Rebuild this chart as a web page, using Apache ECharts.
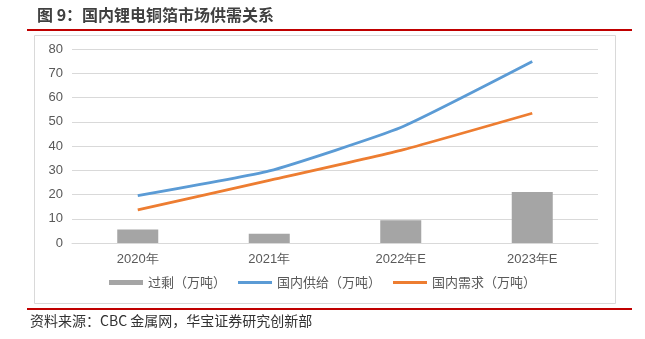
<!DOCTYPE html>
<html><head><meta charset="utf-8">
<script src="https://cdn.jsdelivr.net/npm/echarts@6/dist/echarts.min.js"></script>
<style>html,body{margin:0;padding:0;background:#fff}#c{width:645px;height:339px}</style>
</head><body><div id="c"></div>
<script>
const categories = ['2020年','2021年','2022年E','2023年E'];
const surplus = [5.6, 3.8, 9.4, 21.0];
const supply = [19.5, 29.7, 47.6, 74.8];
const demand = [13.7, 25.8, 38.2, 53.5];
const yTicks = {min:0, max:80, interval:10};

const chart = echarts.init(document.getElementById('c'));
const font = '"Noto Sans CJK SC", sans-serif';
const lineIcon = 'path://M0,0 L34,0 L34,3 L0,3 Z';
chart.setOption({
  animation:false,
  backgroundColor:'#fff',
  graphic:[
    {type:'text', left:37, top:7, style:{text:'图 9：国内锂电铜箔市场供需关系', font:'bold 16px "Noto Sans CJK SC"', fill:'#404040'}},
    {type:'line', shape:{x1:27,y1:30,x2:632,y2:30}, style:{stroke:'#c00000', lineWidth:2}},
    {type:'rect', shape:{x:34.5,y:35.5,width:581,height:268}, style:{fill:'none', stroke:'#d9d9d9', lineWidth:1}},
    {type:'line', shape:{x1:27,y1:309,x2:632,y2:309}, style:{stroke:'#c00000', lineWidth:2}},
    {type:'text', left:30, top:314, style:{text:'资料来源：CBC 金属网，华宝证券研究创新部', font:'14px "Noto Sans CJK SC"', fill:'#333'}}
  ],
  grid:{left:72, right:47, top:49, bottom:96},
  legend:{
    bottom:45, left:104, itemGap:12, itemWidth:34, itemHeight:5,
    textStyle:{fontFamily:font, fontSize:13, color:'#595959'},
    data:[
      {name:'过剩（万吨）', icon:'rect', itemStyle:{color:'#a5a5a5'}},
      {name:'国内供给（万吨）', icon:lineIcon, itemStyle:{color:'#5b9bd5'}},
      {name:'国内需求（万吨）', icon:lineIcon, itemStyle:{color:'#ed7d31'}}
    ]
  },
  xAxis:{type:'category', data:categories,
    axisLine:{lineStyle:{color:'#d9d9d9'}}, axisTick:{show:false},
    axisLabel:{color:'#595959', fontSize:13, fontFamily:'"Liberation Sans", Arial, sans-serif', margin:10}},
  yAxis:{type:'value', min:yTicks.min, max:yTicks.max, interval:yTicks.interval,
    axisLine:{show:false}, axisTick:{show:false},
    splitLine:{lineStyle:{color:'#d9d9d9'}},
    axisLabel:{color:'#595959', fontSize:13, fontFamily:'"Liberation Sans", Arial, sans-serif', margin:9}},
  series:[
    {name:'过剩（万吨）', type:'bar', data:surplus, barWidth:41, itemStyle:{color:'#a5a5a5'}},
    {name:'国内供给（万吨）', type:'line', data:supply, smooth:0.15, symbol:'none', lineStyle:{color:'#5b9bd5', width:2.8}, itemStyle:{color:'#5b9bd5'}},
    {name:'国内需求（万吨）', type:'line', data:demand, smooth:0.15, symbol:'none', lineStyle:{color:'#ed7d31', width:2.8}, itemStyle:{color:'#ed7d31'}}
  ]
});
</script></body></html>
